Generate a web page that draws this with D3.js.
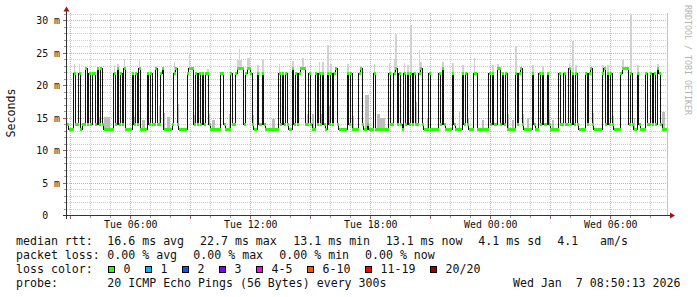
<!DOCTYPE html>
<html><head><meta charset="utf-8">
<script src="https://cdn.jsdelivr.net/npm/d3@7"></script>
<style>
html,body{margin:0;padding:0;background:#fff;}
svg{display:block;font-family:"DejaVu Sans Mono",monospace;}
</style></head><body>
<svg id="c" width="697" height="297"></svg>
<script>
// ---------------- data ----------------
const startTime = new Date(2026, 0, 6, 2, 50, 13);
const stepSeconds = 300;
// median RTT per 300 s sample (ms), 360 samples
const medianRtt = [
14.0,13.1,13.1,13.1,21.8,14.0,14.0,21.8,13.1,14.0,
14.0,22.6,14.0,21.8,14.0,21.8,21.8,14.0,22.6,14.0,
22.6,14.0,13.1,13.1,13.1,13.1,13.1,13.1,21.8,14.0,
22.6,14.0,21.8,14.0,22.6,13.1,13.1,13.1,13.1,21.8,
14.0,21.8,14.0,22.6,13.1,13.1,13.1,13.1,21.8,14.0,
21.8,14.0,14.0,22.6,14.0,14.0,21.8,22.6,13.1,13.1,
13.1,13.1,13.1,14.0,21.8,22.6,14.0,13.1,13.1,13.1,
13.1,13.1,21.8,22.6,22.6,22.6,14.0,21.8,14.0,21.8,
14.0,21.8,14.0,21.8,21.8,14.0,13.1,13.1,13.1,13.1,
13.1,13.1,21.8,21.8,14.0,13.1,13.1,13.1,21.8,14.0,
14.0,21.8,22.6,22.6,22.6,22.6,14.0,21.8,22.6,22.6,
21.8,14.0,13.1,13.1,21.8,14.0,14.0,21.8,14.0,13.1,
13.1,13.1,13.1,13.1,13.1,13.1,13.1,21.8,14.0,21.8,
14.0,21.8,14.0,13.1,13.1,22.6,14.0,21.8,14.0,21.8,
22.6,22.6,22.6,14.0,14.0,21.8,14.0,13.1,13.1,21.8,
14.0,21.8,14.0,21.8,14.0,13.1,21.8,14.0,21.8,14.0,
21.8,22.6,14.0,13.1,13.1,13.1,13.1,13.1,21.8,14.0,
21.8,13.1,13.1,13.1,13.1,21.8,22.6,14.0,13.1,13.1,
14.0,13.1,13.1,13.1,21.8,13.1,13.1,13.1,13.1,13.1,
13.1,13.1,13.1,21.8,14.0,14.0,21.8,22.6,14.0,21.8,
14.0,13.1,21.8,14.0,21.8,14.0,21.8,14.0,21.8,14.0,
14.0,21.8,22.6,14.0,13.1,13.1,13.1,21.8,13.1,13.1,
13.1,13.1,13.1,21.8,14.0,22.6,14.0,13.1,13.1,13.1,
13.1,21.8,14.0,13.1,13.1,13.1,13.1,21.8,14.0,21.8,
14.0,13.1,13.1,13.1,21.8,21.8,13.1,13.1,13.1,13.1,
13.1,13.1,13.1,21.8,14.0,21.8,14.0,14.0,22.6,22.6,
14.0,21.8,14.0,21.8,13.1,13.1,13.1,13.1,13.1,21.8,
14.0,21.8,22.6,14.0,13.1,13.1,13.1,13.1,13.1,21.8,
14.0,13.1,13.1,21.8,14.0,21.8,14.0,14.0,21.8,14.0,
13.1,13.1,13.1,13.1,13.1,21.8,14.0,14.0,21.8,14.0,
14.0,22.6,14.0,21.8,14.0,21.8,14.0,13.1,13.1,13.1,
13.1,21.8,14.0,21.8,22.6,14.0,13.1,13.1,13.1,13.1,
13.1,21.8,22.6,14.0,21.8,14.0,21.8,14.0,13.1,13.1,
13.1,13.1,21.8,22.6,22.6,22.6,22.6,14.0,21.8,14.0,
13.1,13.1,21.8,14.0,13.1,13.1,13.1,21.8,14.0,14.0,
21.8,14.0,21.8,14.0,22.6,21.8,14.0,13.1,13.1,13.1
];
// smoke (ping spread) : sample index and highest ping (ms)
const smokeIndex = [4,7,19,22,23,24,25,28,30,34,40,43,45,46,53,55,58,60,61,64,66,73,76,84,85,87,88,
  97,102,103,104,108,109,111,114,117,123,124,127,135,141,144,147,151,152,153,156,157,158,168,171,176,
  179,180,184,186,187,188,189,190,193,196,197,202,204,206,209,211,212,216,225,231,235,237,240,244,249,255,258,264,267,
  269,273,276,279,285,289,291,301,303,305,315,321,324,327,333,338,340,342,351,354,357,358];
const smokeTop = [23.3,23.3,15.1,15.1,15.1,15.1,15.1,23.0,23.3,24.0,15.1,23.8,14.6,14.6,23.0,16.7,15.7,15.1,15.1,23.6,17.1,24.9,15.4,22.4,15.6,14.6,14.6,
  15.6,23.8,25.6,23.8,24.2,24.2,15.4,23.1,24.0,14.8,14.8,23.3,23.7,24.2,15.6,15.6,23.6,15.6,23.6,26.2,16.7,23.3,23.3,15.3,23.0,
  18.5,18.5,23.3,15.5,15.5,15.0,15.0,15.0,23.4,24.0,27.9,23.4,23.1,29.2,17.4,25.4,23.5,14.8,23.6,23.4,15.8,23.1,15.0,24.1,14.6,23.1,23.3,15.6,14.6,
  26.0,15.6,15.0,23.1,23.0,16.2,14.6,23.3,26.8,23.1,15.7,23.1,23.1,15.3,23.8,30.8,15.0,23.1,20.0,23.3,15.8,15.8];

const yTickValues = [0,5,10,15,20,25,30];
const yTickLabels = ["0","5 m","10 m","15 m","20 m","25 m","30 m"];
const xLabelTimes = [new Date(2026,0,6,6), new Date(2026,0,6,12), new Date(2026,0,6,18), new Date(2026,0,7,0), new Date(2026,0,7,6)];
const xLabelTexts = ["Tue 06:00","Tue 12:00","Tue 18:00","Wed 00:00","Wed 06:00"];

const rttStats = ["median rtt:","16.6 ms avg","22.7 ms max","13.1 ms min","13.1 ms now","4.1 ms sd","4.1","am/s"];
const lossStats = ["packet loss:","0.00 % avg","0.00 % max","0.00 % min","0.00 % now"];
const lossLabels = ["0","1","2","3","4-5","6-10","11-19","20/20"];
const lossColors = ["#26ff00","#00b8ff","#0059ff","#7e00ff","#ff00ff","#ff5500","#ff0000","#a10000"];
const probeText = ["probe:","20 ICMP Echo Pings (56 Bytes) every 300s","Wed Jan  7 08:50:13 2026"];

// ---------------- drawing ----------------
const svg = d3.select("#c");
const L = 67, R = 667, T = 13, B = 215;
const endTime = new Date(startTime.getTime() + medianRtt.length * stepSeconds * 1000);
const x = d3.scaleTime().domain([startTime, endTime]).range([L, R]);
const y = d3.scaleLinear().domain([0, 31.077]).range([B, T]);
const tAt = i => new Date(startTime.getTime() + i * stepSeconds * 1000);

// grid
const g = svg.append("g");
const hours = d3.timeHour.range(startTime, endTime);
hours.forEach(h => {
  const major = h.getHours() % 3 === 0;
  const xx = Math.round(x(h)) + 0.5;
  g.append("line").attr("x1", xx).attr("x2", xx).attr("y1", T).attr("y2", B)
    .attr("stroke", major ? "#e9a3a3" : "#d0d0d0").attr("stroke-dasharray", "1,1");
});
d3.range(1, 32).forEach(v => {
  const major = v % 5 === 0;
  const yy = Math.round(y(v)) + 0.5;
  g.append("line").attr("x1", L).attr("x2", R).attr("y1", yy).attr("y2", yy)
    .attr("stroke", major ? "#e9a3a3" : "#d0d0d0").attr("stroke-dasharray", "1,1");
});

// smoke
const sw = x(tAt(1)) - x(tAt(0));
smokeIndex.forEach((idx, k) => {
  const m = medianRtt[idx], top = smokeTop[k];
  svg.append("rect").attr("x", x(tAt(idx))).attr("width", sw)
    .attr("y", y(top)).attr("height", Math.max(0, y(m) - y(top)))
    .attr("fill", top < 19 ? "#bdbdbd" : "#d2d2d2").attr("shape-rendering", "crispEdges");
});

// median line (black step)
const pts = medianRtt.map((v, i) => [x(tAt(i)), y(v)]);
pts.push([x(tAt(medianRtt.length)), y(medianRtt[medianRtt.length - 1])]);
svg.append("path").attr("d", d3.line().curve(d3.curveStepAfter)(pts))
  .attr("fill", "none").attr("stroke", "#111").attr("stroke-width", 1).attr("shape-rendering", "crispEdges");

// loss colour band (0 loss -> green)
medianRtt.forEach((v, i) => {
  svg.append("rect").attr("x", x(tAt(i))).attr("width", sw + 0.2)
    .attr("y", y(v) - 1.5).attr("height", 3).attr("fill", lossColors[0]).attr("shape-rendering", "crispEdges");
});

// right rule
svg.append("line").attr("x1", R + 0.5).attr("x2", R + 0.5).attr("y1", T).attr("y2", B).attr("stroke", "#cdc6a6");

// axes
const ax = svg.append("g");
ax.append("line").attr("x1", L - 0.5).attr("x2", L - 0.5).attr("y1", B + 4).attr("y2", 9).attr("stroke", "#333");
ax.append("line").attr("x1", L - 4).attr("x2", R + 3).attr("y1", B + 0.5).attr("y2", B + 0.5).attr("stroke", "#333");
ax.append("path").attr("d", `M${L-3.5},${11.5} L${L+2.5},${11.5} L${L-0.5},${6.5} Z`).attr("fill", "#a01414");
ax.append("path").attr("d", `M${R+3},${B-2.5} L${R+3},${B+3.5} L${R+8},${B+0.5} Z`).attr("fill", "#a01414");
// ticks
hours.forEach(h => {
  const major = h.getHours() % 3 === 0;
  const xx = Math.round(x(h)) + 0.5;
  ax.append("line").attr("x1", xx).attr("x2", xx).attr("y1", B + 1).attr("y2", B + (major ? 4 : 3))
    .attr("stroke", major ? "#a06060" : "#999");
});
d3.range(1, 32).forEach(v => {
  const major = v % 5 === 0;
  const yy = Math.round(y(v)) + 0.5;
  ax.append("line").attr("x1", L - 1).attr("x2", L - (major ? 4 : 3)).attr("y1", yy).attr("y2", yy)
    .attr("stroke", major ? "#a06060" : "#999");
});

// y tick labels
const yAxis = d3.axisLeft(y).tickValues(yTickValues).tickSize(0).tickPadding(0)
  .tickFormat((d, i) => yTickLabels[i].indexOf("m") < 0 ? yTickLabels[i] + "\u00a0\u00a0" : yTickLabels[i]);
const ya = svg.append("g").attr("transform", `translate(60,0)`).call(yAxis);
ya.select(".domain").remove();
ya.selectAll("text").attr("font-family", "DejaVu Sans Mono").attr("font-size", "9.9px").attr("fill", "#111").attr("dy", "0.36em");

// x tick labels
const xAxis = d3.axisBottom(x).tickValues(xLabelTimes).tickSize(0).tickPadding(0)
  .tickFormat((d, i) => xLabelTexts[i]);
const xa = svg.append("g").attr("transform", `translate(0,${B + 13})`).call(xAxis);
xa.select(".domain").remove();
xa.selectAll("text").attr("font-family", "DejaVu Sans Mono").attr("font-size", "9.9px").attr("fill", "#111").attr("dy", 0);

// y title
svg.append("text").attr("transform", "translate(15,113) rotate(-90)").attr("text-anchor", "middle")
  .attr("font-size", "11.6px").attr("fill", "#111").text("Seconds");
// watermark
svg.append("text").attr("transform", "translate(684.5,5) rotate(90)")
  .attr("font-size", "8.3px").attr("fill", "#b4b4b4").text("RRDTOOL / TOBI OETIKER");

// legend
const lg = svg.append("g").attr("font-size", "11.6px").attr("fill", "#111");
const rttX = [16, 107.3, 200, 293.3, 385.7, 478.3, 557.3, 600];
rttStats.forEach((s, i) => lg.append("text").attr("x", rttX[i]).attr("y", 245).text(s));
const lossX = [16, 107.3, 193.3, 279.3, 365];
lossStats.forEach((s, i) => lg.append("text").attr("x", lossX[i]).attr("y", 259).text(s));
lg.append("text").attr("x", 16).attr("y", 273).text("loss color:");
let bx = 108.5;
lossLabels.forEach((s, i) => {
  lg.append("rect").attr("x", bx).attr("y", 266.5).attr("width", 6).attr("height", 6)
    .attr("fill", lossColors[i]).attr("stroke", "#000").attr("stroke-width", 1);
  lg.append("text").attr("x", bx + 15).attr("y", 273).text(s);
  bx += 15 + s.length * 7 + 15;
});
lg.append("text").attr("x", 16).attr("y", 287).text(probeText[0]);
lg.append("text").attr("x", 107.3).attr("y", 287).text(probeText[1]);
lg.append("text").attr("x", 680.5).attr("y", 287).attr("text-anchor", "end").attr("xml:space", "preserve").style("white-space", "pre").text(probeText[2]);
</script>
</body></html>
